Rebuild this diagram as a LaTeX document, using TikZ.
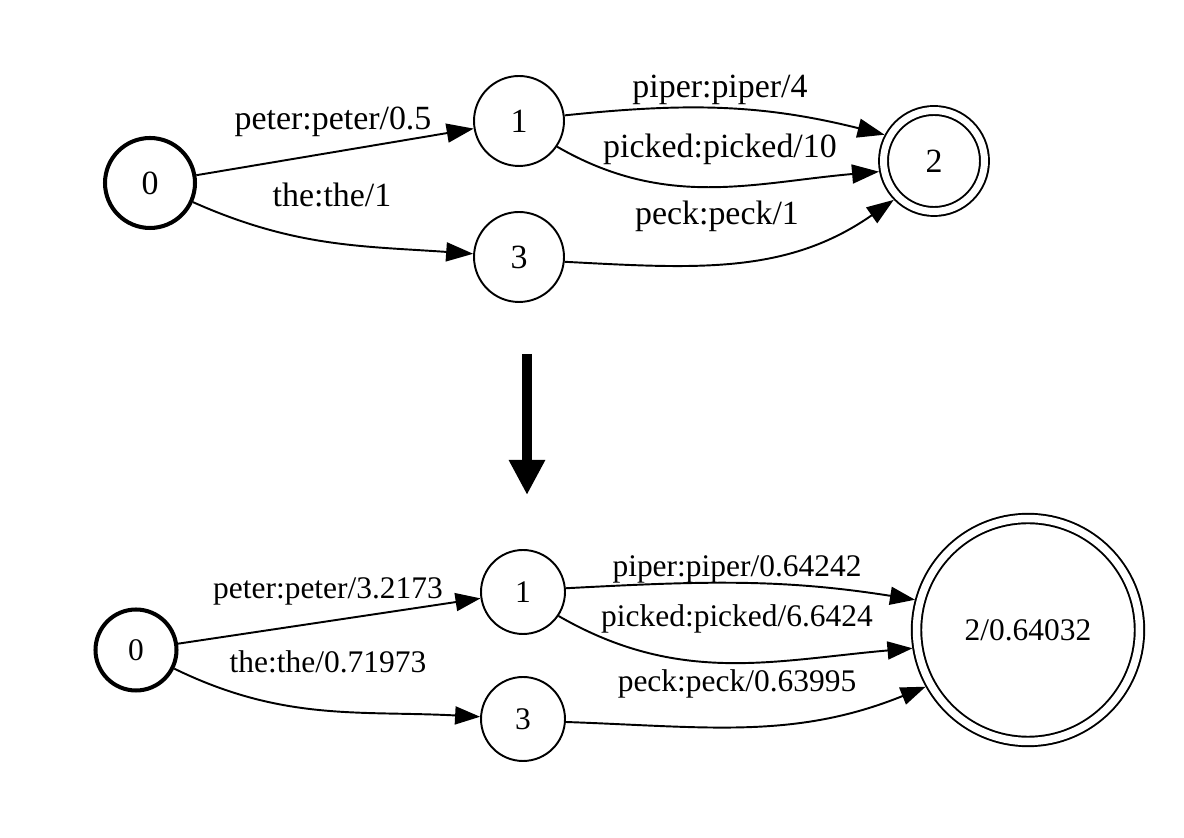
\documentclass[tikz,border=0pt]{standalone}
\usepackage{fontspec}
\setmainfont{Liberation Serif}
\usepackage{tikz}
\usetikzlibrary{arrows.meta,positioning,calc}
\newcommand{\bigfont}{\fontsize{19.3}{23}\selectfont}
\newcommand{\smallfont}{\fontsize{17.9}{21}\selectfont}

\begin{document}
\begin{tikzpicture}[x=0.02cm, y=0.02cm,
    statenode/.style={circle, draw, line width=1.1pt, inner sep=0pt, minimum size=1.8cm, font=\bigfont},
    initnode/.style={statenode, line width=2.3pt},
    finalnode/.style={statenode, double, double distance=0.14cm, minimum size=2.02cm, outer sep=0.11cm},
    statesmall/.style={statenode, minimum size=1.68cm, font=\smallfont},
    initsmall/.style={statesmall, line width=2.3pt, minimum size=1.62cm},
    finalsmall/.style={statesmall, double, double distance=0.15cm, minimum size=4.46cm, outer sep=0.11cm},
    lbl/.style={anchor=base, inner sep=0pt, font=\bigfont},
    lblsmall/.style={lbl, font=\smallfont},
    trans/.style={line width=1.1pt, -{Triangle[length=0.54cm, width=0.38cm]}},
    transsmall/.style={line width=1.1pt, -{Triangle[length=0.5cm, width=0.36cm]}}]

    \useasboundingbox (0,0) rectangle (1184,838);

    % Input machine
    \node[initnode] (n0) at (150,655) {0};
    \node[statenode] (n1) at (519,717) {1};
    \node[statenode] (n3) at (519,581) {3};
    \node[finalnode] (n2) at (934,677) {2};

    \node[lbl] (lpeter) at (333,708) {peter:peter/0.5};
    \node[lbl] (lthe) at (332,631) {the:the/1};
    \node[lbl] (lpiper) at (720,740) {piper:piper/4};
    \node[lbl] (lpicked) at (720,680) {picked:picked/10};
    \node[lbl] (lpeck) at (717,613) {peck:peck/1};

    \draw[trans] (n0) -- (n1);
    \draw[trans] (n0) to[out=-24, in=176] (n3);
    \draw[trans] (n1.7) to[out=6, in=166] (n2.152);
    \draw[trans] (n1.-34) to[out=-30, in=185] (n2.191);
    \draw[trans] (n3.-6) to[out=-3, in=215] (n2.224);

    % Arrow between the two machines
    \coordinate (arrtop) at (527,484);
    \coordinate (arrtip) at (527,343);
    \draw[line width=0.2cm, -{Triangle[length=0.7cm, width=0.68cm]}] (arrtop) -- (arrtip);

    % Pushed machine
    \node[initsmall] (m0) at (136,188) {0};
    \node[statesmall] (m1) at (523,246) {1};
    \node[statesmall] (m3) at (523,119) {3};
    \node[finalsmall] (m2) at (1028,208) {2/0.64032};

    \node[lblsmall] (mpeter) at (328,239) {peter:peter/3.2173};
    \node[lblsmall] (mthe) at (328,165) {the:the/0.71973};
    \node[lblsmall] (mpiper) at (737,261) {piper:piper/0.64242};
    \node[lblsmall] (mpicked) at (737,211) {picked:picked/6.6424};
    \node[lblsmall] (mpeck) at (737,146) {peck:peck/0.63995};

    \draw[transsmall] (m0) -- (m1);
    \draw[transsmall] (m0) to[out=-26, in=177] (m3);
    \draw[transsmall] (m1.5) to[out=3, in=171] (m2.165);
    \draw[transsmall] (m1.-34) to[out=-30, in=185] (m2.189);
    \draw[transsmall] (m3.-4) to[out=-2, in=202] (m2.209);
\end{tikzpicture}
\end{document}
